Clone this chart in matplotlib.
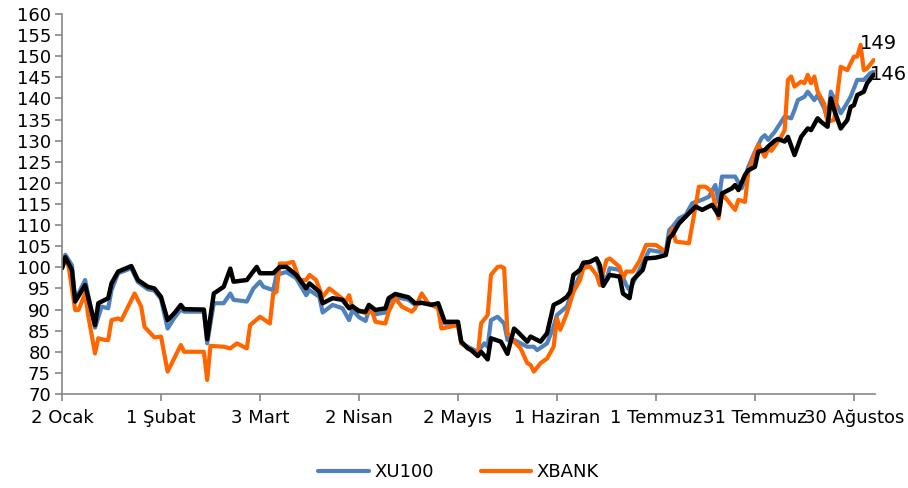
import pandas as pd
import numpy as np
import matplotlib
matplotlib.use("Agg")
import matplotlib.pyplot as plt

plt.rcParams['font.family'] = ['DejaVu Sans']

# gun sayisi (2 Ocak'tan itibaren) ve endeks degerleri
xu100_days = [0, 1, 3, 4, 7, 10, 12, 14, 15, 17, 21, 23, 26, 28, 30, 32, 34, 36, 37, 43,
              44, 46, 49, 51, 52, 56, 58, 60, 61, 64, 65, 68, 71, 74, 75, 78, 79, 82, 85, 87,
              88, 90, 92, 93, 95, 98, 99, 101, 105, 107, 109, 114, 116, 120, 121, 124, 126, 128, 129, 130,
              132, 134, 135, 137, 141, 143, 144, 147, 149, 150, 153, 154, 157, 158, 162, 163, 165, 166, 169, 171,
              172, 174, 177, 178, 181, 183, 184, 185, 187, 189, 191, 194, 196, 198, 199, 200, 204, 206, 208, 210,
              212, 213, 214, 216, 219, 221, 222, 223, 225, 226, 228, 229, 231, 232, 233, 234, 236, 237, 239, 241,
              243, 245, 246]
xu100_vals = [100, 103, 100.5, 92.2, 97, 85.7, 90.7, 90.3, 94.6, 98.6, 99.8, 96.5, 94.8, 94.5, 92.5, 85.5, 88, 90, 89.5, 89.5,
              82, 91.5, 91.5, 93.8, 92.3, 91.9, 95, 96.6, 95.4, 94.6, 98.2, 98.9, 97.4, 93.4, 94.6, 93, 89.3, 91.1, 90.3, 87.5,
              89.9, 88.2, 87.3, 89.9, 88.9, 89.3, 91.9, 93, 92.3, 91.1, 91.6, 91.1, 86.7, 86.7, 82, 80.8, 80, 82, 81.2, 87.5,
              88.3, 86.7, 82.8, 82.8, 81.2, 81.2, 80.4, 82, 86, 88.7, 90.7, 93, 98.2, 100.5, 102.1, 99, 97, 99.8, 99.4, 95.8,
              94.6, 97.8, 102.5, 104.1, 103.7, 103.7, 108.8, 109.6, 111.6, 112.4, 115.2, 116, 116.7, 119.5, 115.5, 121.5, 121.5, 118.7, 123.8, 127.4,
              130.6, 131.3, 130.2, 132.1, 135.7, 135.3, 137.3, 139.6, 140.4, 141.6, 139.6, 140.8, 137.7, 134.9, 141.6, 140, 136.5, 137.7, 140.4, 144.4,
              144.4, 146, 146.3]

xbank_days = [0, 1, 2, 4, 5, 7, 8, 10, 11, 13, 14, 15, 17, 18, 22, 24, 25, 28, 30, 32,
              36, 37, 43, 44, 45, 49, 51, 53, 56, 57, 60, 63, 64, 65, 66, 68, 70, 72, 74, 75,
              77, 79, 81, 83, 86, 87, 88, 90, 92, 94, 95, 98, 99, 101, 103, 106, 107, 109, 111, 114,
              115, 120, 121, 124, 126, 127, 129, 130, 132, 133, 134, 135, 137, 139, 141, 142, 143, 145, 147, 149,
              150, 151, 153, 155, 157, 158, 160, 162, 163, 165, 166, 169, 170, 171, 173, 175, 177, 180, 183, 185,
              186, 190, 192, 193, 195, 197, 199, 200, 204, 205, 207, 208, 210, 211, 213, 214, 215, 218, 219, 220,
              221, 222, 224, 225, 226, 227, 228, 229, 231, 232, 234, 235, 236, 238, 240, 241, 242, 243, 244, 246]
xbank_vals = [99.8, 102, 100.2, 89.9, 89.9, 93.8, 88.3, 79.6, 83.2, 82.8, 82.8, 87.5, 87.9, 87.5, 93.8, 90.7, 85.9, 83.4, 83.6, 75.3,
              81.6, 80, 80, 73.3, 81.4, 81.2, 80.8, 82, 80.8, 86.3, 88.3, 86.7, 93.8, 94.2, 100.9, 100.9, 101.3, 97, 97, 98.2,
              97, 93, 95, 93.8, 91.9, 93.4, 90.5, 89.9, 89.1, 89.5, 87.1, 86.7, 89.5, 92.7, 90.7, 89.5, 90.3, 93.8, 91.5, 90.3,
              85.5, 86.3, 82, 80.4, 79.2, 86.7, 88.7, 98.2, 100.1, 100.2, 99.8, 84.4, 82.4, 80.8, 77.3, 76.9, 75.3, 77.3, 78.4, 81.2,
              87.9, 85.2, 89.1, 94.2, 97, 99.8, 100.2, 98.2, 95.8, 101.7, 102.1, 100.1, 97.4, 99, 99, 101.5, 105.3, 105.3, 103.7, 109.2,
              106.1, 105.7, 114.4, 119.1, 119.1, 117.9, 111.6, 117.5, 113.6, 116, 115.5, 122.7, 127, 129.1, 126.2, 128, 127.6, 131, 132.5, 144.4,
              145.2, 142.8, 144, 143.6, 145.6, 143.6, 145.2, 141.6, 138.8, 134.5, 134.9, 141.2, 147.5, 146.7, 149.9, 149.9, 152.7, 146.7, 147.1, 149.1]

# ucuncu seri (siyah, lejantta yok)
seri3_days = [0, 1, 3, 4, 7, 10, 11, 14, 15, 17, 21, 23, 26, 28, 30, 32, 34, 36, 37, 43,
              44, 46, 49, 51, 52, 56, 59, 60, 64, 66, 68, 71, 74, 75, 78, 79, 82, 85, 87, 88,
              90, 92, 93, 95, 98, 99, 101, 105, 107, 109, 112, 114, 116, 120, 121, 123, 124, 126, 127, 129,
              130, 133, 135, 137, 138, 141, 142, 143, 145, 147, 149, 151, 153, 154, 155, 157, 158, 160, 162, 163,
              164, 166, 169, 170, 172, 173, 176, 177, 180, 183, 184, 185, 187, 189, 192, 194, 197, 199, 200, 203,
              204, 205, 207, 208, 210, 211, 213, 214, 216, 217, 219, 220, 222, 224, 226, 227, 229, 230, 232, 233,
              234, 236, 238, 239, 240, 241, 243, 244, 246]
seri3_vals = [99.8, 102.4, 99.4, 91.9, 95.8, 86.3, 91.5, 92.7, 96.2, 99, 100.3, 97, 95.4, 95, 93, 87.5, 89.1, 91.1, 90.1, 90,
              83, 93.8, 95.4, 99.7, 96.6, 97, 100.1, 98.6, 98.6, 100.1, 100.1, 98.2, 95, 96.2, 94.2, 91.5, 92.7, 92.3, 90.3, 90.8,
              89.6, 89.5, 91.1, 89.9, 90.3, 92.7, 93.7, 92.9, 91.5, 91.6, 91.1, 91.5, 87.1, 87.1, 82.4, 80.8, 80.4, 79, 80, 78.2,
              83.2, 82.4, 79.5, 85.5, 84.8, 82.4, 83.6, 83.2, 82.4, 84.4, 91.1, 91.9, 93, 94.2, 98.2, 99.4, 101.1, 101.3, 102.1, 100.5,
              95.6, 98.2, 97.8, 93.8, 92.7, 97, 99.4, 102.1, 102.3, 102.9, 106.9, 107.7, 110.4, 112, 114.4, 113.6, 114.8, 112.4, 117.5, 118.7,
              119.5, 118.3, 121.9, 123, 123.8, 127.4, 127.8, 128.6, 130, 130.4, 129.8, 130.9, 126.6, 130.9, 132.9, 132.5, 135.3, 134.5, 133.3, 140,
              137.3, 132.9, 134.9, 138, 138.4, 140.8, 141.6, 143.6, 145.6]

tick_labels = ['2 Ocak', '1 Şubat', '3 Mart', '2 Nisan', '2 Mayıs', '1 Haziran',
               '1 Temmuz', '31 Temmuz', '30 Ağustos']

base = pd.Timestamp('2023-01-02')
to_date = lambda d: base + pd.to_timedelta(d, unit='D')

fig = plt.figure(figsize=(9.08, 4.88), dpi=100)
ax = fig.add_axes([0.0683, 0.1926, 0.8954, 0.7787])

ax.plot(to_date(xu100_days), xu100_vals, color='#4F81BD', lw=3.0, label='XU100',
        solid_joinstyle='round', solid_capstyle='round')
ax.plot(to_date(xbank_days), xbank_vals, color='#FF6600', lw=3.0, label='XBANK',
        solid_joinstyle='round', solid_capstyle='round')
ax.plot(to_date(seri3_days), seri3_vals, color='black', lw=3.2, label='_nolegend_',
        solid_joinstyle='round', solid_capstyle='round')

# son deger etiketleri
ax.annotate('149', (to_date(xbank_days[-1]), xbank_vals[-1]), xytext=(-10, 12),
            textcoords='offset points', ha='left', va='center', fontsize=14)
ax.annotate('146', (to_date(seri3_days[-1]), seri3_vals[-1]), xytext=(-3, 0),
            textcoords='offset points', ha='left', va='center', fontsize=14)

ax.set_xlim(base, to_date(246.4))
ax.set_ylim(70, 160)
ax.set_yticks(np.arange(70, 161, 5))
ax.set_xticks([to_date(30 * i) for i in range(len(tick_labels))])
ax.set_xticklabels(tick_labels)

for s in ['top', 'right']:
    ax.spines[s].set_visible(False)
for s in ['left', 'bottom']:
    ax.spines[s].set_color('#868686')
    ax.spines[s].set_linewidth(1.2)
ax.tick_params(axis='both', direction='out', length=5, width=1.2, color='#868686',
               labelsize=13)
ax.tick_params(axis='x', pad=6)
ax.tick_params(axis='y', pad=3)

fig.legend(loc='center', bbox_to_anchor=(0.505, 0.033), ncol=2, frameon=False,
           fontsize=13, handlelength=2.8, handletextpad=0.3, columnspacing=2.6)

fig.savefig('out.png', dpi=100)
